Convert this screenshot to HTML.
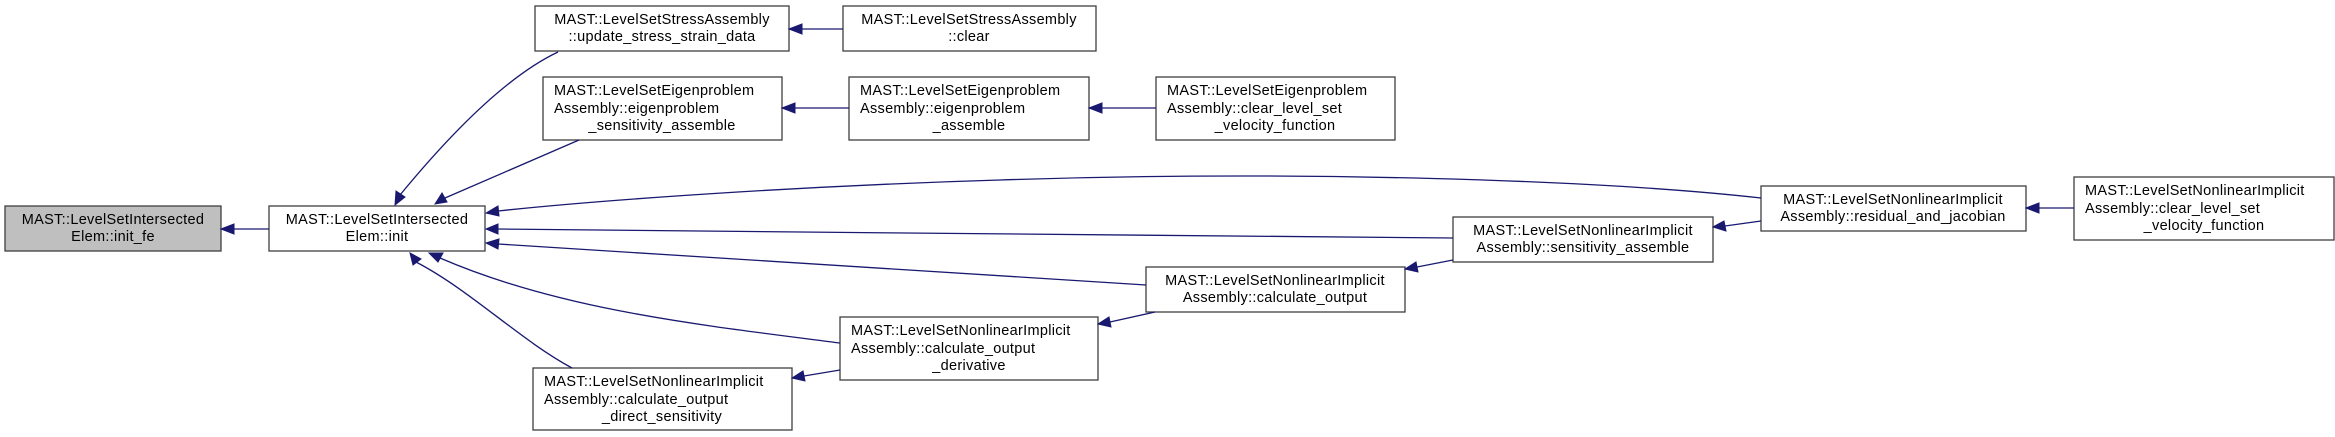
<!DOCTYPE html>
<html><head><meta charset="utf-8"><style>
html,body{margin:0;padding:0;background:#fff;}
svg{display:block;}
text{font-family:"Liberation Sans",Arial,sans-serif;font-size:14.5px;letter-spacing:0.3px;fill:#000;}
.b{fill:#fff;stroke:#3f3f3f;stroke-width:1.3;}
.e{fill:none;stroke:#191970;stroke-width:1.3;}
.a{fill:#191970;stroke:#191970;}
</style></head><body>
<svg width="2335" height="437" viewBox="0 0 2335 437" xmlns="http://www.w3.org/2000/svg">
<rect x="5" y="206" width="216" height="45" fill="#bfbfbf" stroke="#3f3f3f" stroke-width="1.3"/>
<text x="113" y="224" text-anchor="middle">MAST::LevelSetIntersected</text>
<text x="113" y="241" text-anchor="middle">Elem::init_fe</text>

<rect class="b" x="269" y="206" width="216" height="45"/>
<text x="377" y="224" text-anchor="middle">MAST::LevelSetIntersected</text>
<text x="377" y="241" text-anchor="middle">Elem::init</text>

<rect class="b" x="535" y="6" width="254" height="45"/>
<text x="662" y="24" text-anchor="middle">MAST::LevelSetStressAssembly</text>
<text x="662" y="41" text-anchor="middle">::update_stress_strain_data</text>

<rect class="b" x="843" y="6" width="253" height="45"/>
<text x="969" y="24" text-anchor="middle">MAST::LevelSetStressAssembly</text>
<text x="969" y="41" text-anchor="middle">::clear</text>

<rect class="b" x="543" y="77" width="239" height="63"/>
<text x="554" y="95">MAST::LevelSetEigenproblem</text>
<text x="554" y="113">Assembly::eigenproblem</text>
<text x="662" y="130" text-anchor="middle">_sensitivity_assemble</text>

<rect class="b" x="849" y="77" width="240" height="63"/>
<text x="860" y="95">MAST::LevelSetEigenproblem</text>
<text x="860" y="113">Assembly::eigenproblem</text>
<text x="969" y="130" text-anchor="middle">_assemble</text>

<rect class="b" x="1156" y="77" width="239" height="63"/>
<text x="1167" y="95">MAST::LevelSetEigenproblem</text>
<text x="1167" y="113">Assembly::clear_level_set</text>
<text x="1275" y="130" text-anchor="middle">_velocity_function</text>

<rect class="b" x="533" y="368" width="259" height="62"/>
<text x="544" y="386">MAST::LevelSetNonlinearImplicit</text>
<text x="544" y="404">Assembly::calculate_output</text>
<text x="662" y="421" text-anchor="middle">_direct_sensitivity</text>

<rect class="b" x="840" y="317" width="258" height="63"/>
<text x="851" y="335">MAST::LevelSetNonlinearImplicit</text>
<text x="851" y="353">Assembly::calculate_output</text>
<text x="969" y="370" text-anchor="middle">_derivative</text>

<rect class="b" x="1146" y="267" width="259" height="45"/>
<text x="1275" y="285" text-anchor="middle">MAST::LevelSetNonlinearImplicit</text>
<text x="1275" y="302" text-anchor="middle">Assembly::calculate_output</text>

<rect class="b" x="1453" y="217" width="260" height="45"/>
<text x="1583" y="235" text-anchor="middle">MAST::LevelSetNonlinearImplicit</text>
<text x="1583" y="252" text-anchor="middle">Assembly::sensitivity_assemble</text>

<rect class="b" x="1761" y="186" width="265" height="45"/>
<text x="1893" y="204" text-anchor="middle">MAST::LevelSetNonlinearImplicit</text>
<text x="1893" y="221" text-anchor="middle">Assembly::residual_and_jacobian</text>

<rect class="b" x="2074" y="177" width="260" height="63"/>
<text x="2085" y="195">MAST::LevelSetNonlinearImplicit</text>
<text x="2085" y="213">Assembly::clear_level_set</text>
<text x="2204" y="230" text-anchor="middle">_velocity_function</text>

<path class="e" d="M269,229 L233,229"/>
<polygon class="a" points="221,229 234,224 234,234"/>

<path class="e" d="M558,52 C520,70 470,110 400,195"/>
<polygon class="a" points="395,205 396,191 405,197"/>

<path class="e" d="M579,140 L445,198"/>
<polygon class="a" points="435,204 442,193 447,202"/>

<path class="e" d="M1761,198 C1600,180 1300,170 1000,180 C800,186 600,200 498,211"/>
<polygon class="a" points="486,213 498,206 499,216"/>

<path class="e" d="M1453,238 C1200,236 800,232 498,229"/>
<polygon class="a" points="486,229 498,224 498,234"/>

<path class="e" d="M1146,285 L498,244"/>
<polygon class="a" points="486,243 499,239 498,249"/>

<path class="e" d="M840,343 C700,325 560,310 440,258"/>
<polygon class="a" points="429,253 443,253 438,262"/>

<path class="e" d="M572,368 C520,340 470,290 416,262"/>
<polygon class="a" points="410,253 421,259 413,265"/>

<path class="e" d="M849,108 L794,108"/>
<polygon class="a" points="782,108 795,103 795,113"/>

<path class="e" d="M1156,108 L1101,108"/>
<polygon class="a" points="1089,108 1102,103 1102,113"/>

<path class="e" d="M843,29 L801,29"/>
<polygon class="a" points="789,29 802,24 802,34"/>

<path class="e" d="M1155,312 L1110,322"/>
<polygon class="a" points="1098,324 1109,317 1111,327"/>

<path class="e" d="M840,370 L804,376"/>
<polygon class="a" points="792,378 803,371 805,381"/>

<path class="e" d="M1453,260 L1417,267"/>
<polygon class="a" points="1405,269 1416,262 1418,272"/>

<path class="e" d="M1761,221 L1725,226"/>
<polygon class="a" points="1713,227 1724,221 1726,231"/>

<path class="e" d="M2074,208 L2038,208"/>
<polygon class="a" points="2026,208 2039,203 2039,213"/>
</svg>
</body></html>
